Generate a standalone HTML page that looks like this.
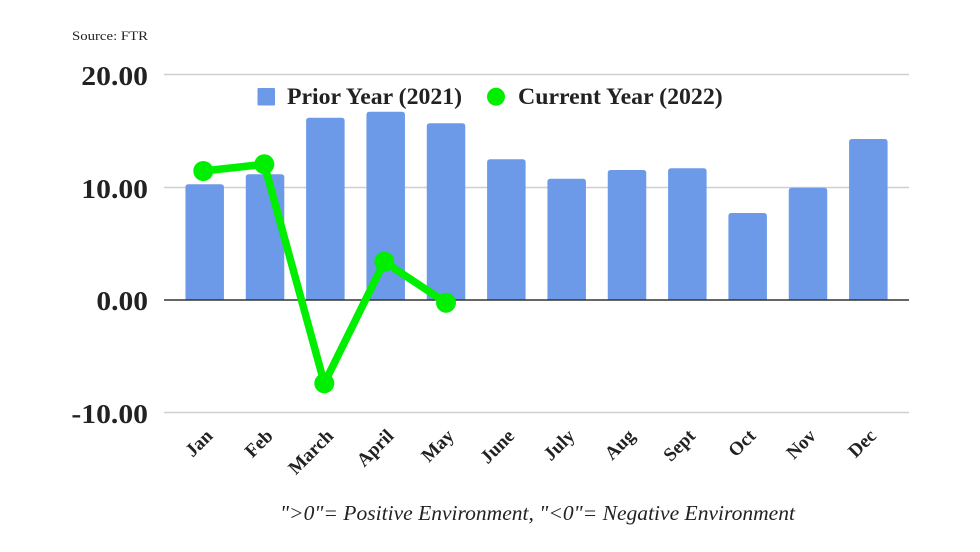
<!DOCTYPE html>
<html>
<head>
<meta charset="utf-8">
<style>
  html,body{margin:0;padding:0;background:#fff;}
  svg{display:block;}
  text{font-family:"Liberation Serif","Times New Roman",serif;fill:#222;}
</style>
</head>
<body>
<svg width="980" height="552" viewBox="0 0 980 552" xmlns="http://www.w3.org/2000/svg">
  <rect width="980" height="552" fill="#fff"/>
  <text x="72" y="40" font-size="13" textLength="76" lengthAdjust="spacingAndGlyphs">Source: FTR</text>

  <!-- gridlines -->
  <line x1="164" y1="74.5" x2="909" y2="74.5" stroke="#cfcfcf" stroke-width="1.5"/>
  <line x1="164" y1="187.5" x2="909" y2="187.5" stroke="#cfcfcf" stroke-width="1.5"/>
  <line x1="164" y1="412.5" x2="909" y2="412.5" stroke="#cfcfcf" stroke-width="1.5"/>

  <!-- y labels -->
  <g font-weight="bold" font-size="27" text-anchor="end">
    <text x="148" y="85" textLength="66.7" lengthAdjust="spacingAndGlyphs">20.00</text>
    <text x="148" y="198" textLength="66.7" lengthAdjust="spacingAndGlyphs">10.00</text>
    <text x="148" y="310" textLength="51.6" lengthAdjust="spacingAndGlyphs">0.00</text>
    <text x="148" y="423" textLength="76.6" lengthAdjust="spacingAndGlyphs">-10.00</text>
  </g>

  <!-- bars -->
  <g fill="#6c9ae8">
    <path d="M185.45,300 V187.3 Q185.45,184.3 188.45,184.3 H220.95 Q223.95,184.3 223.95,187.3 V300 Z"/>
    <path d="M245.78,300 V177.3 Q245.78,174.3 248.78,174.3 H281.28 Q284.28,174.3 284.28,177.3 V300 Z"/>
    <path d="M306.11,300 V120.7 Q306.11,117.7 309.11,117.7 H341.61 Q344.61,117.7 344.61,120.7 V300 Z"/>
    <path d="M366.44,300 V114.7 Q366.44,111.7 369.44,111.7 H401.94 Q404.94,111.7 404.94,114.7 V300 Z"/>
    <path d="M426.77,300 V126.3 Q426.77,123.3 429.77,123.3 H462.27 Q465.27,123.3 465.27,126.3 V300 Z"/>
    <path d="M487.10,300 V162.3 Q487.10,159.3 490.10,159.3 H522.60 Q525.60,159.3 525.60,162.3 V300 Z"/>
    <path d="M547.43,300 V181.7 Q547.43,178.7 550.43,178.7 H582.93 Q585.93,178.7 585.93,181.7 V300 Z"/>
    <path d="M607.76,300 V173 Q607.76,170 610.76,170 H643.26 Q646.26,170 646.26,173 V300 Z"/>
    <path d="M668.09,300 V171.3 Q668.09,168.3 671.09,168.3 H703.59 Q706.59,168.3 706.59,171.3 V300 Z"/>
    <path d="M728.42,300 V216 Q728.42,213 731.42,213 H763.92 Q766.92,213 766.92,216 V300 Z"/>
    <path d="M788.75,300 V190.7 Q788.75,187.7 791.75,187.7 H824.25 Q827.25,187.7 827.25,190.7 V300 Z"/>
    <path d="M849.08,300 V142 Q849.08,139 852.08,139 H884.58 Q887.58,139 887.58,142 V300 Z"/>
  </g>

  <!-- zero line -->
  <line x1="164" y1="300" x2="909" y2="300" stroke="#333" stroke-width="1.6"/>

  <!-- line series -->
  <polyline points="203.3,171 264.3,164.3 324.3,383.3 384.3,261.7 446,302.7" fill="none" stroke="#00ee00" stroke-width="7.5" stroke-linejoin="round"/>
  <g fill="#00ee00">
    <circle cx="203.3" cy="171" r="10"/>
    <circle cx="264.3" cy="164.3" r="10"/>
    <circle cx="324.3" cy="383.3" r="10"/>
    <circle cx="384.3" cy="261.7" r="10"/>
    <circle cx="446" cy="302.7" r="10"/>
  </g>

  <!-- legend -->
  <rect x="257.5" y="88" width="17.5" height="17.5" fill="#6c9ae8" rx="1"/>
  <text x="287" y="104" font-size="23" font-weight="bold" textLength="175" lengthAdjust="spacingAndGlyphs">Prior Year (2021)</text>
  <circle cx="496" cy="96.7" r="9" fill="#00ee00"/>
  <text x="518" y="104" font-size="23" font-weight="bold" textLength="204.7" lengthAdjust="spacingAndGlyphs">Current Year (2022)</text>

  <!-- x labels -->
  <g font-weight="bold" font-size="19" text-anchor="end">
    <text transform="translate(213.7,437) rotate(-45)">Jan</text>
    <text transform="translate(274,437) rotate(-45)">Feb</text>
    <text transform="translate(334.4,437) rotate(-45)">March</text>
    <text transform="translate(394.7,437) rotate(-45)">April</text>
    <text transform="translate(455,437) rotate(-45)">May</text>
    <text transform="translate(515.4,437) rotate(-45)">June</text>
    <text transform="translate(575.7,437) rotate(-45)">July</text>
    <text transform="translate(636,437) rotate(-45)">Aug</text>
    <text transform="translate(696.3,437) rotate(-45)">Sept</text>
    <text transform="translate(756.7,437) rotate(-45)">Oct</text>
    <text transform="translate(817,437) rotate(-45)">Nov</text>
    <text transform="translate(877.3,437) rotate(-45)">Dec</text>
  </g>

  <!-- footnote -->
  <text x="280" y="520" font-size="21" font-style="italic" textLength="515" lengthAdjust="spacingAndGlyphs">"&gt;0"= Positive Environment, "&lt;0"= Negative Environment</text>
</svg>
</body>
</html>
